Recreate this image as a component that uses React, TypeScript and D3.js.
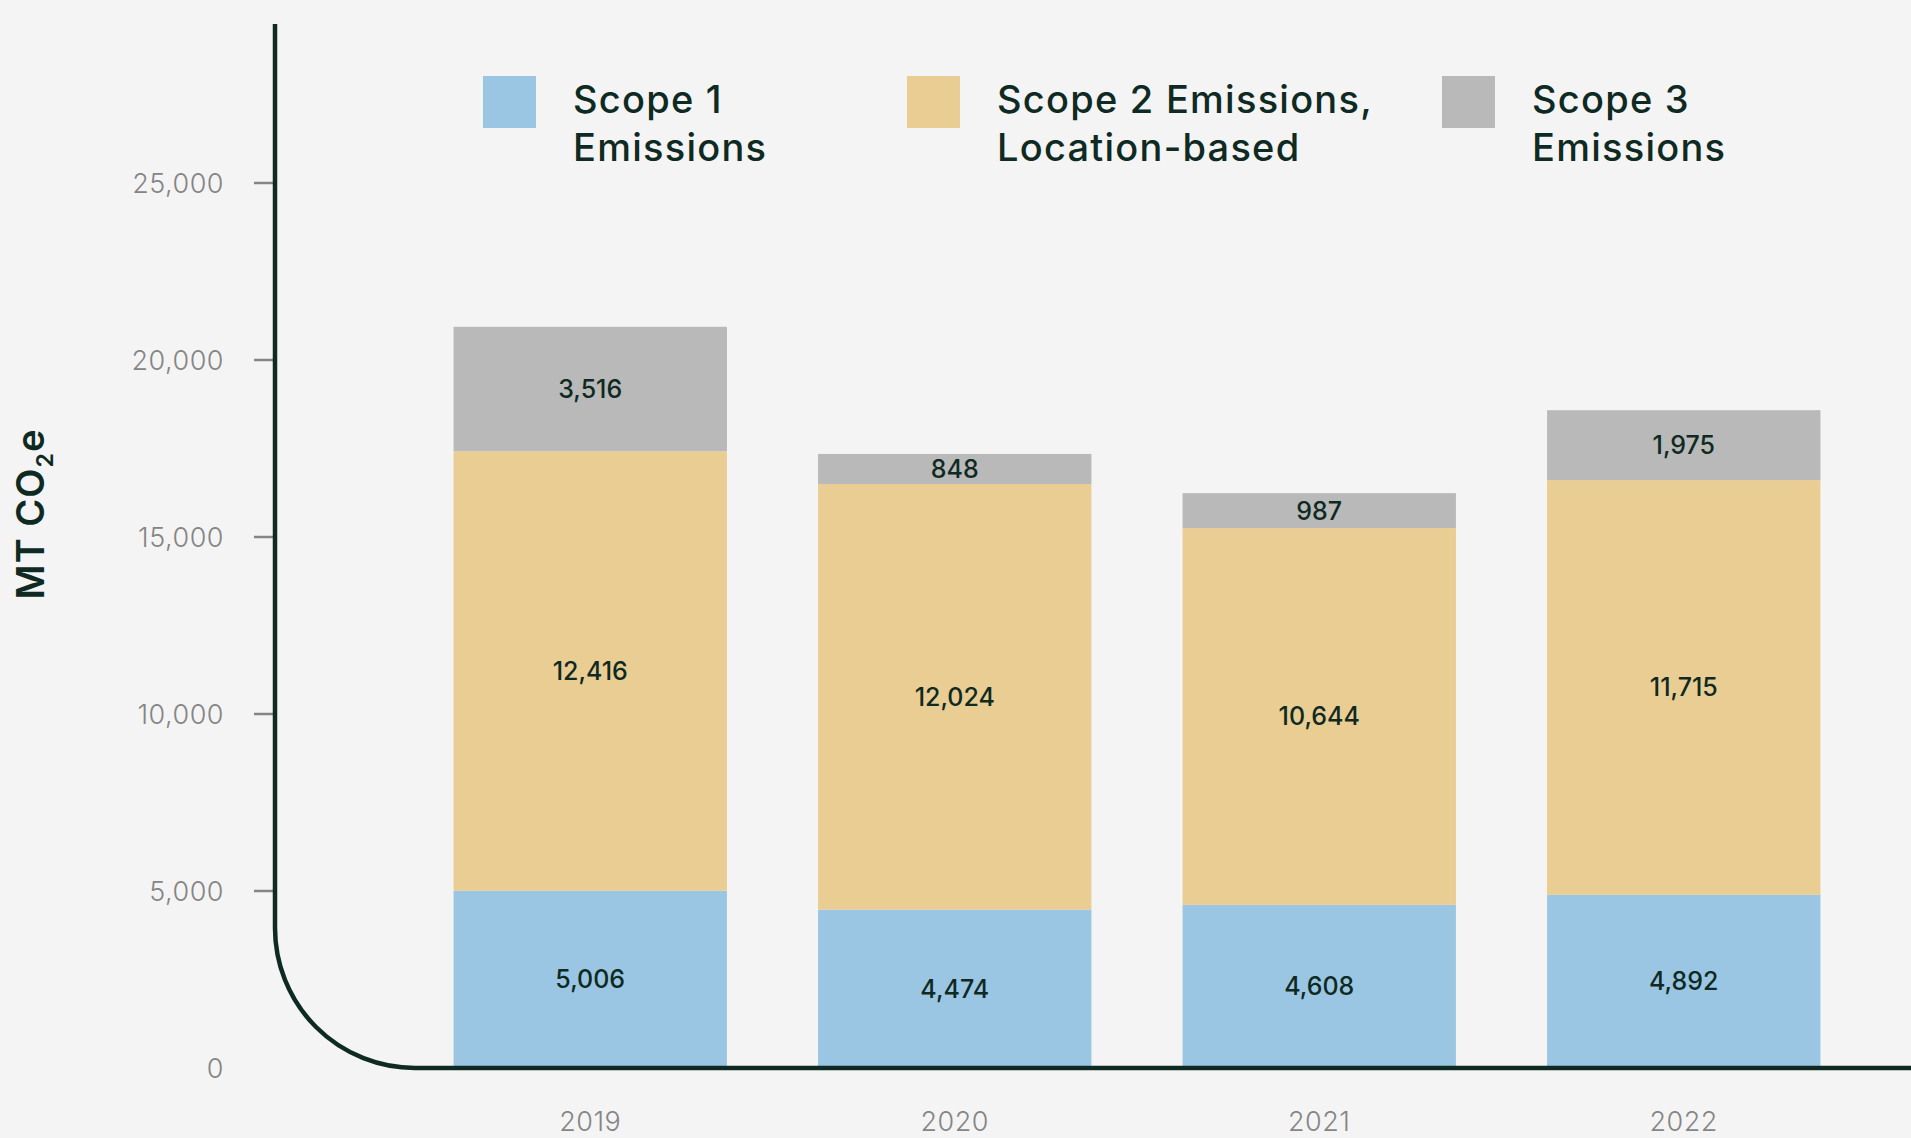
import React from 'react';
import * as d3 from 'd3';

const years = ['2019', '2020', '2021', '2022'];
const scope1 = [5006, 4474, 4608, 4892];
const scope2 = [12416, 12024, 10644, 11715];
const scope3 = [3516, 848, 987, 1975];
const seriesNames = ['Scope 1 Emissions', 'Scope 2 Emissions, Location-based', 'Scope 3 Emissions'];
const legendLines = [['Scope 1', 'Emissions'], ['Scope 2 Emissions,', 'Location-based'], ['Scope 3', 'Emissions']];
const yTicks = [0, 5000, 10000, 15000, 20000, 25000];
const colors = ['#9bc6e3', '#eacd93', '#b9b9b9'];

const W = 1911;
const H = 1138;
const dark = '#0e2a22';
const grey = '#858585';
const font = 'Inter, "Open Sans", sans-serif';

export default function App() {
  const x = d3.scaleBand<string>().domain(years).range([408, 1866]).paddingInner(0.25).paddingOuter(0.125);
  const y = d3.scaleLinear().domain([0, 25000]).range([1068, 183]);

  const rows = years.map((yr, i) => ({ year: yr, s1: scope1[i], s2: scope2[i], s3: scope3[i] }));
  const stacked = d3.stack<any>().keys(['s1', 's2', 's3'])(rows);
  const fmt = d3.format(',');

  const axisX = 275;
  const r = 140;
  const axisPath = `M${axisX},24 V${y(0) - r} A${r},${r} 0 0 0 ${axisX + r},${y(0)} H${W}`;

  const legendX = [483, 907, 1442];

  return (
    <svg width={W} height={H} style={{ position: 'absolute', left: 0, top: 0, background: '#f4f4f4' }} fontFamily={font}>
      <rect width={W} height={H} fill="#f4f4f4" />

      {stacked.map((layer, li) => (
        <g key={li}>
          {layer.map((d, i) => {
            const y0 = y(d[0]);
            const y1 = y(d[1]);
            return (
              <g key={i}>
                <rect x={x(years[i])} y={y1} width={x.bandwidth()} height={y0 - y1} fill={colors[li]} />
                <text
                  x={(x(years[i]) as number) + x.bandwidth() / 2}
                  y={(y0 + y1) / 2}
                  dy="0.36em"
                  textAnchor="middle"
                  fontSize={25}
                  fontWeight={500}
                  fill={dark}
                >
                  {fmt(d[1] - d[0])}
                </text>
              </g>
            );
          })}
        </g>
      ))}

      {yTicks.filter(t => t > 0).map(t => (
        <line key={t} x1={254} x2={axisX} y1={y(t)} y2={y(t)} stroke={grey} strokeWidth={2.5} />
      ))}
      {yTicks.map(t => (
        <text key={t} x={224} y={y(t)} dy="0.36em" textAnchor="end" fontSize={27} fontWeight={300} letterSpacing={0.5} fill={grey}>
          {fmt(t)}
        </text>
      ))}

      <path d={axisPath} fill="none" stroke={dark} strokeWidth={4.5} />

      {years.map(yr => (
        <text key={yr} x={(x(yr) as number) + x.bandwidth() / 2} y={1131} textAnchor="middle" fontSize={27} fontWeight={300} letterSpacing={0.5} fill={grey}>
          {yr}
        </text>
      ))}

      <text transform="translate(44,514) rotate(-90)" textAnchor="middle" fontSize={38} fontWeight={600} letterSpacing={1} fill={dark}>
        MT CO<tspan fontSize={23} dy={9}>2</tspan><tspan dy={-9}>e</tspan>
      </text>

      {seriesNames.map((name, i) => (
        <g key={name} transform={`translate(${legendX[i]},76)`}>
          <rect width={53} height={52} fill={colors[i]} />
          <text x={90} y={37} fontSize={38} fontWeight={500} letterSpacing={1.25} fill={dark}>
            <tspan x={90}>{legendLines[i][0]}</tspan>
            <tspan x={90} dy={48}>{legendLines[i][1]}</tspan>
          </text>
        </g>
      ))}
    </svg>
  );
}
